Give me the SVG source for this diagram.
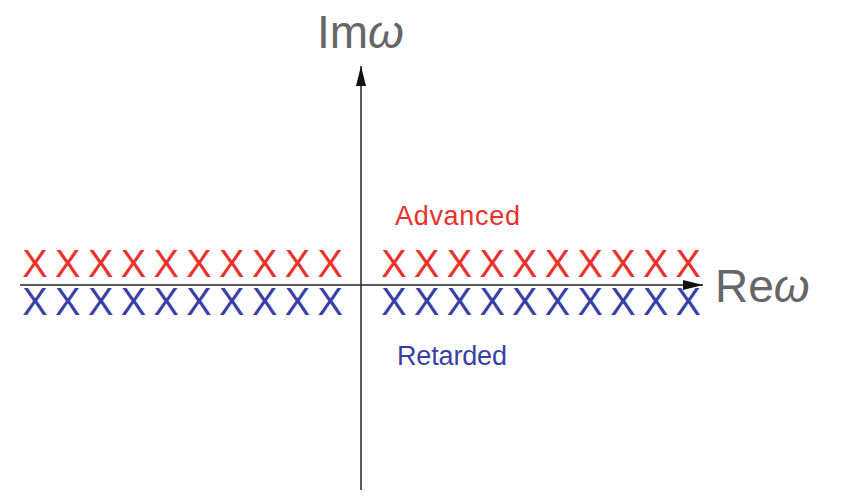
<svg xmlns="http://www.w3.org/2000/svg" width="841" height="503" viewBox="0 0 841 503">
<defs>
<style>
.x{font-family:"Liberation Sans",Arial,sans-serif;font-size:38px;text-anchor:middle}
.red{fill:#e8322b}
.blue{fill:#3a3fa6}
.lbl{font-family:"Liberation Sans",Arial,sans-serif;font-size:27px}
.ax{font-family:"Liberation Sans",Arial,sans-serif;font-size:46px;fill:#666}
.axis{stroke:#222;stroke-width:1.5;fill:none}
</style>
<marker id="ah" viewBox="0 0 20 10" refX="20" refY="5" markerWidth="20" markerHeight="10" markerUnits="userSpaceOnUse" orient="auto">
<path d="M0,0 L20,5 L0,10 z" fill="#111"/>
</marker>
</defs>
<rect width="841" height="503" fill="#fff"/>
<g id="connectors">
<line class="axis" x1="20" y1="285" x2="703" y2="285" marker-end="url(#ah)"/>
<line class="axis" x1="361" y1="490" x2="361" y2="66" marker-end="url(#ah)"/>
</g>
<g id="advanced-poles">
<text class="x red" x="35 67.8 100.6 133.4 166.2 199 231.8 264.6 297.4 330.2" y="277">XXXXXXXXXX</text>
<text class="x red" x="394 426.7 459.4 492.1 524.8 557.5 590.2 622.9 655.6 688.3" y="277">XXXXXXXXXX</text>
</g>
<g id="retarded-poles">
<text class="x blue" x="35 67.8 100.6 133.4 166.2 199 231.8 264.6 297.4 330.2" y="315">XXXXXXXXXX</text>
<text class="x blue" x="394 426.7 459.4 492.1 524.8 557.5 590.2 622.9 655.6 688.3" y="315">XXXXXXXXXX</text>
</g>
<g id="labels">
<text class="lbl red" x="395" y="225" textLength="125">Advanced</text>
<text class="lbl blue" x="397" y="365" textLength="110">Retarded</text>
<text class="ax" x="715" y="302">Re<tspan font-style="italic">ω</tspan></text>
<text class="ax" x="317" y="48">Im<tspan font-style="italic">ω</tspan></text>
</g>
</svg>
